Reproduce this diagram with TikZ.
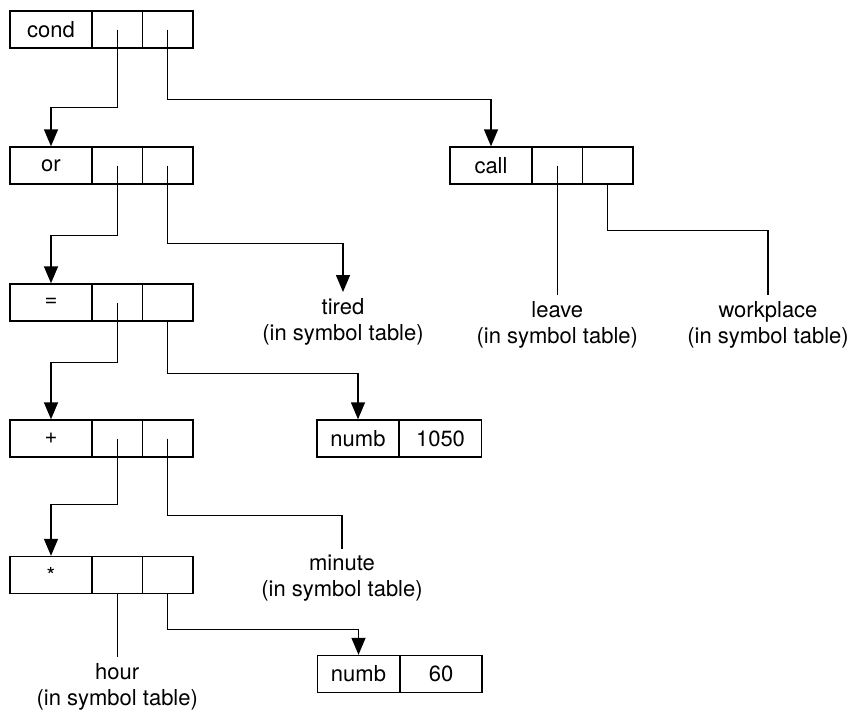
\documentclass[tikz,border=0pt]{standalone}
\usepackage{fontspec}
\setmainfont{TeX Gyre Heros}
\usetikzlibrary{arrows.meta}
\begin{document}
\begin{tikzpicture}[x=1pt,y=-1pt,
  cell/.style={draw, line width=1.4pt, minimum height=37pt, inner sep=0pt, font=\fontsize{22}{26}\selectfont},
  lbl/.style={cell, minimum width=82pt},
  ptr/.style={cell, minimum width=50.5pt},
  link/.style={line width=1.4pt},
  arr/.style={link, -{Triangle[width=14pt,length=17pt]}},
  sym/.style={anchor=north, align=center, inner xsep=0pt, inner ysep=6pt, font=\fontsize{22}{26}\selectfont}]
\useasboundingbox (0,0) rectangle (853,710);

% cond
\node[lbl] (condL) at (51,29.5) {cond};
\node[ptr] (condA) at (117.25,29.5) {};
\node[ptr] (condB) at (167.75,29.5) {};
% or
\node[lbl] (orL) at (51,165.5) {or};
\node[ptr] (orA) at (117.25,165.5) {};
\node[ptr] (orB) at (167.75,165.5) {};
% =
\node[lbl] (eqL) at (51,302.5) {=};
\node[ptr] (eqA) at (117.25,302.5) {};
\node[ptr] (eqB) at (167.75,302.5) {};
% +
\node[lbl] (plusL) at (51,438.5) {+};
\node[ptr] (plusA) at (117.25,438.5) {};
\node[ptr] (plusB) at (167.75,438.5) {};
% *
\node[lbl] (starL) at (51,575) {*};
\node[ptr] (starA) at (117.25,575) {};
\node[ptr] (starB) at (167.75,575) {};
% call
\node[lbl] (callL) at (491,165.5) {call};
\node[ptr] (callA) at (557.25,165.5) {};
\node[ptr] (callB) at (607.75,165.5) {};
% numb 1050
\node[lbl] (nA) at (358,438.5) {numb};
\node[lbl] (nAv) at (440.5,438.5) {1050};
% numb 60
\node[lbl] (nB) at (358.5,674) {numb};
\node[lbl] (nBv) at (441,674) {60};

% symbol-table labels
\node[sym] (tired) at (343,292) {tired\\(in symbol table)};
\node[sym] (leave) at (557.25,295) {leave\\(in symbol table)};
\node[sym] (workplace) at (768,295) {workplace\\(in symbol table)};
\node[sym] (minute) at (342,549) {minute\\(in symbol table)};
\node[sym] (hour) at (117.25,657) {hour\\(in symbol table)};

% connectors
\draw[arr] (condA.center) -- ++(0,78) -| (orL.north);
\draw[arr] (condB.center) -- ++(0,70) -| (callL.north);
\draw[arr] (orA.center) -- ++(0,70) -| (eqL.north);
\draw[arr] (orB.center) -- ++(0,78) -| (tired.north);
\draw[arr] (eqA.center) -- ++(0,60) -| (plusL.north);
\draw[arr] (eqB.south) -- ++(0,52) -| (nA.north);
\draw[arr] (plusA.center) -- ++(0,66) -| (starL.north);
\draw[link] (plusB.center) -- ++(0,77) -| (minute.north);
\draw[link] (starA.south) -- (hour.north);
\draw[arr] (starB.south) -- ++(0,35) -| (nB.north);
\draw[link] (callA.center) -- (leave.north);
\draw[link] (callB.south) -- ++(0,46) -| (workplace.north);
\end{tikzpicture}
\end{document}
